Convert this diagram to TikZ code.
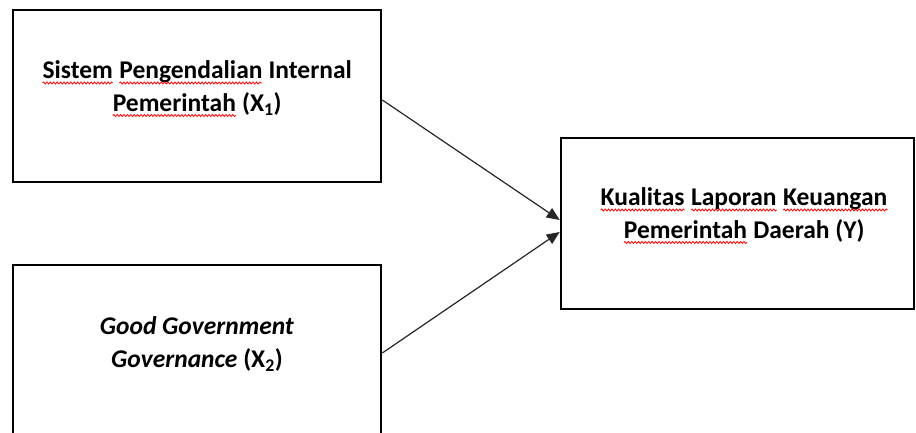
\documentclass[tikz,border=0pt]{standalone}
\usepackage{fontspec}
\setmainfont{Carlito}
\usetikzlibrary{arrows.meta,decorations.pathmorphing}
\newcommand\sqw[1]{\tikz[baseline=(sqword.base)]{\node[inner sep=0pt,outer sep=0pt,align=left](sqword){#1};\draw[red,line width=0.8pt,decorate,decoration={snake,amplitude=1pt,segment length=3.4pt}]([yshift=-4pt]sqword.base west)--([yshift=-4pt]sqword.base east);}}
\tikzset{
  box/.style={draw=black,line width=2.6pt,minimum width=368pt,minimum height=172pt,inner sep=0pt},
  lbl/.style={font=\fontsize{25.5}{32.5}\selectfont\bfseries,align=center,inner sep=0pt},
  arr/.style={draw=black!85,line width=1.2pt,-{Triangle[length=13pt,width=11pt]}}
}
\begin{document}
\begin{tikzpicture}[x=1pt,y=1pt]
\useasboundingbox (0,0) rectangle (916,432);
\fill[white] (0,0) rectangle (916,432);
\node[box] (b1) at (197,336) {};
\node[box,minimum height=174pt] (b2) at (197,80) {};
\node[box,minimum width=353pt,minimum height=171pt] (b3) at (737.5,208.5) {};
\node[lbl] (t1) at (197,343) {\sqw{Sistem} \sqw{Pengendalian} Internal\\\sqw{Pemerintah} (X\textsubscript{1})};
\node[lbl] (t2) at (197,88) {\textit{Good Government}\\\textit{Governance} (X\textsubscript{2})};
\node[lbl] (t3) at (744,216) {\sqw{Kualitas} \sqw{Laporan} \sqw{Keuangan}\\\sqw{Pemerintah} Daerah (Y)};
\draw[arr] ([yshift=-4pt]b1.east) -- ([yshift=3.5pt]b3.west);
\draw[arr] ([yshift=-1pt]b2.east) -- ([yshift=-8.5pt]b3.west);
\end{tikzpicture}
\end{document}
